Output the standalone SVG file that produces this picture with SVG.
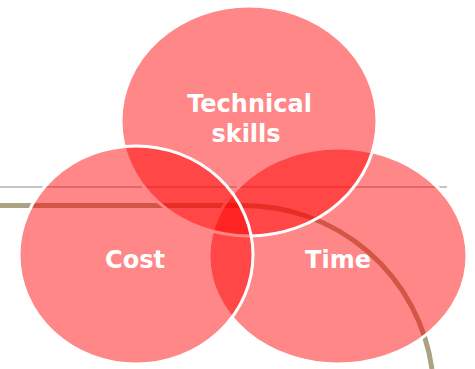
<svg xmlns="http://www.w3.org/2000/svg" width="475" height="369" viewBox="0 0 475 369">
<style>
.bubble{fill:#FF0000;fill-opacity:0.47;stroke:#FFFFFF;stroke-width:3}
.label{font-family:"DejaVu Sans","Verdana",sans-serif;font-weight:bold;font-size:24px;fill:#FFFFFF;text-anchor:middle}
</style>
<rect width="475" height="369" fill="#FFFFFF"/>
<g id="connectors">
<line x1="0" y1="187" x2="447" y2="187" stroke="#C4C4C4" stroke-width="2"/>
<path d="M0,205.5 L242,205.5 A190,190 0 0 1 432,369" fill="none" stroke="#ABA183" stroke-width="5"/>
</g>
<g id="time">
<ellipse class="bubble" cx="338" cy="256" rx="129" ry="108"/>
</g>
<g id="technical">
<ellipse class="bubble" cx="249" cy="121" rx="128" ry="115"/>
</g>
<g id="cost">
<ellipse class="bubble" cx="136" cy="255" rx="117" ry="109"/>
</g>
<g id="labels">
<text class="label" x="249.5" y="112">Technical</text>
<text class="label" x="246" y="142">skills</text>
<text class="label" x="135" y="268">Cost</text>
<text class="label" x="338" y="268">Time</text>
</g>
</svg>
